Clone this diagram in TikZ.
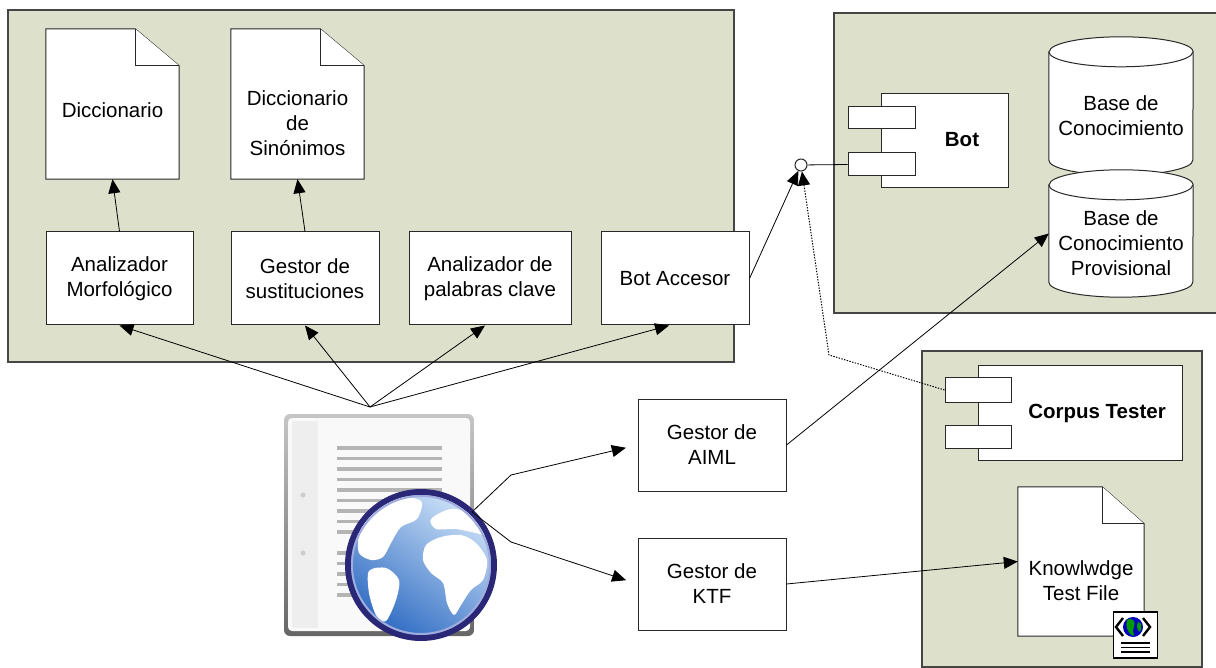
\documentclass[tikz,border=0pt]{standalone}
\usepackage{fontspec}
\setmainfont{Liberation Sans}
\usetikzlibrary{arrows.meta,calc}

\definecolor{panelfill}{RGB}{221,224,203}
\definecolor{panelline}{RGB}{70,70,70}
\definecolor{boxline}{RGB}{40,40,40}
\definecolor{ringblue}{RGB}{42,40,118}
\definecolor{ringlight}{RGB}{160,172,222}
\definecolor{oceanlight}{RGB}{200,222,246}
\definecolor{oceandark}{RGB}{50,110,196}
\definecolor{iconline}{RGB}{180,180,180}

\newcommand\diagfont{\fontsize{20.5pt}{25pt}\selectfont}

% document outline with a folded top-right corner, drawn around a named frame node
\newcommand\foldeddoc[3]{%
  \filldraw[outline] (#1.north west) -- ($(#1.north east)+(-#2pt,0pt)$)
    -- ($(#1.north east)+(0pt,-#3pt)$) -- (#1.south east) -- (#1.south west) -- cycle;
  \draw[outline] ($(#1.north east)+(-#2pt,0pt)$) |- ($(#1.north east)+(0pt,-#3pt)$);}

% database drum drawn around a named frame node: node, x radius, y radius
\newcommand\drum[3]{%
  \filldraw[outline] ($(#1.north west)+(0pt,-#3pt)$) -- ($(#1.south west)+(0pt,#3pt)$)
    arc[start angle=180,end angle=360,x radius=#2pt,y radius=#3pt]
    -- ($(#1.north east)+(0pt,-#3pt)$)
    arc[start angle=0,end angle=180,x radius=#2pt,y radius=#3pt] -- cycle;
  \draw[outline] ($(#1.north west)+(0pt,-#3pt)$)
    arc[start angle=180,end angle=360,x radius=#2pt,y radius=#3pt];}

\begin{document}
\begin{tikzpicture}[x=1pt,y=-1pt,
  panel/.style={draw=panelline, fill=panelfill, line width=1.2pt},
  outline/.style={draw=boxline, fill=white, line width=1pt},
  frame/.style={rectangle, draw=none, inner sep=0pt},
  box/.style={rectangle, draw=boxline, fill=white, line width=1pt, inner sep=0pt,
              align=center, font=\diagfont},
  caption/.style={align=center, font=\diagfont, inner sep=0pt},
  boldcaption/.style={align=center, font=\diagfont\bfseries, inner sep=0pt},
  conn/.style={draw=black, line width=0.8pt},
  arrowhead/.style={-{Triangle[length=14pt,width=12pt]}},
  dotline/.style={line width=1pt, dash pattern=on 1.4pt off 1.4pt}]

\useasboundingbox (0,0) rectangle (1216,668);
\clip (0,0) rectangle (1216,668);

% ---------- grouping panels ----------
\path[panel] (8,10) rectangle (734,362);
\path[panel] (834,13) rectangle (1230,313);
\path[panel] (922,351) rectangle (1202,667);

% ---------- lexical resources ----------
\node[frame, minimum width=133pt, minimum height=150pt] (dic) at (112.5,104) {};
\foldeddoc{dic}{44}{37}
\node[caption] (dictxt) at (112.5,110) {Diccionario};

\node[frame, minimum width=133pt, minimum height=150pt] (syn) at (297.5,104) {};
\foldeddoc{syn}{44}{37}
\node[caption] (syntxt) at (297.5,123) {Diccionario\\de\\Sinónimos};

% ---------- processing modules ----------
\node[box, minimum width=147pt, minimum height=93pt] (am) at (119.5,278.5) {Analizador\\Morfológico};
\node[box, minimum width=148pt, minimum height=93pt] (gs) at (305,278.5) {Gestor de\\sustituciones};
\node[box, minimum width=162pt, minimum height=93pt] (ap) at (490,278.5) {Analizador de\\palabras clave};
\node[box, minimum width=148pt, minimum height=93pt] (ba) at (675,278.5) {Bot Accesor};

% ---------- bot component ----------
\node[box, minimum width=127pt, minimum height=94pt] (bot) at (944.5,141) {};
\node[box, minimum width=67pt, minimum height=22pt] (botp1) at (881.5,118) {};
\node[box, minimum width=67pt, minimum height=23pt] (botp2) at (881.5,164.5) {};
\node[boldcaption] (bottxt) at (962,140) {Bot};
\node[circle, draw=boxline, fill=white, line width=1pt, minimum size=12pt, inner sep=0pt] (lol) at (801,165) {};

% ---------- knowledge bases ----------
\node[frame, minimum width=144pt, minimum height=138pt] (kb) at (1121,106) {};
\drum{kb}{72}{15}
\node[caption] (kbtxt) at (1121,116) {Base de\\Conocimiento};
\node[frame, minimum width=144pt, minimum height=127pt] (kbp) at (1121,233.5) {};
\drum{kbp}{72}{15}
\node[caption] (kbptxt) at (1121,243) {Base de\\Conocimiento\\Provisional};

% ---------- corpus tester component ----------
\node[box, minimum width=204pt, minimum height=94pt] (ct) at (1080,413) {};
\node[box, minimum width=66pt, minimum height=24pt] (ctp1) at (978,390) {};
\node[box, minimum width=66pt, minimum height=23pt] (ctp2) at (978,436.5) {};
\node[boldcaption] (cttxt) at (1097,413) {Corpus Tester};

% ---------- knowledge test file ----------
\node[frame, minimum width=126pt, minimum height=149pt] (ktfdoc) at (1081,561.5) {};
\foldeddoc{ktfdoc}{42}{37}
\node[caption] (ktfdoctxt) at (1081,581) {Knowlwdge\\Test File};

% small web-document badge
\node[rectangle, draw=black, fill=white, line width=1.3pt, minimum width=44pt,
      minimum height=46pt, inner sep=0pt] (badge) at (1135.5,635) {};
\fill[blue!75!black] (1133,627) circle[radius=10pt];
\fill[green!60!black] (1127,620) .. controls (1133,617) and (1136,622) .. (1134,627)
      .. controls (1131,632) and (1136,635) .. (1133,636) .. controls (1128,634) and (1125,626) .. cycle;
\fill[green!60!black] (1138,622) .. controls (1142,622) and (1142,628) .. (1140,632)
      .. controls (1137,630) and (1136,626) .. cycle;
\draw[line width=2.4pt] (1123,618) -- (1116,627) -- (1123,636);
\draw[line width=2.4pt] (1143,618) -- (1150,627) -- (1143,636);
\draw[line width=1.4pt] (1121,643) -- (1150,643);
\draw[line width=1.4pt] (1121,647.5) -- (1150,647.5);
\draw[line width=1.4pt] (1121,652) -- (1150,652);

% ---------- managers ----------
\node[box, minimum width=148pt, minimum height=92pt] (aiml) at (712,445) {Gestor de\\AIML};
\node[box, minimum width=148pt, minimum height=92pt] (ktf) at (712,584) {Gestor de\\KTF};

% ---------- web document icon ----------
\shade[rounded corners=6pt, top color=gray!45, bottom color=gray!80!black] (284,414) rectangle (474,636);
\fill[rounded corners=4pt, gray!5] (288,418) rectangle (470,631);
\fill[gray!13] (292,421) rectangle (318,628);
\foreach \ly in {448,458.5,469,479.5,490,500.5,511,521.5,532}
  \draw[iconline, line width=3.5pt] (337,\ly) -- (442,\ly);
\foreach \ly in {553,563.5,574,584.5,595}
  \draw[iconline, line width=3.5pt] (337,\ly) -- (410,\ly);
\fill[gray!40] (303,495) circle[radius=2.5pt];
\fill[gray!40] (303,553) circle[radius=2.5pt];

\fill[ringblue] (421,565) circle[radius=76pt];
\shade[shading=axis, top color=oceanlight, bottom color=oceandark, shading angle=-35]
  (421,565) circle[radius=70pt];
\begin{scope}[shift={(421,565)}]
  \clip (0,0) circle[radius=70pt];
  \fill[white] plot[smooth cycle] coordinates {(-62,-30) (-50,-55) (-25,-68) (0,-64) (-4,-46)
    (-20,-38) (-30,-22) (-38,-8) (-50,-5) (-62,-12)};
  \fill[white] plot[smooth cycle] coordinates {(-52,6) (-35,3) (-22,15) (-25,35) (-35,56)
    (-45,50) (-52,28)};
  \fill[white] plot[smooth cycle] coordinates {(5,-20) (20,-28) (40,-30) (55,-22) (66,-5)
    (62,15) (50,25) (40,40) (33,50) (26,38) (22,18) (10,8) (2,-5)};
  \fill[white] plot[smooth cycle] coordinates {(10,-46) (30,-56) (55,-50) (68,-30) (55,-32)
    (35,-36) (15,-36)};
\end{scope}
\draw[ringlight, line width=2pt] (421,565) circle[radius=69pt];

\coordinate (fan) at (370,407);
\coordinate (gfoot) at (472,512);
\coordinate (bendA) at (511,475);
\coordinate (bendK) at (511,542);
\coordinate (dotbend) at (829,355);

% ---------- connectors ----------
\draw[conn, arrowhead] (am.north) -- (dic.south);
\draw[conn, arrowhead] (gs.north) -- (syn.south);

\draw[conn, arrowhead] (fan) -- (am.south);
\draw[conn, arrowhead] (fan) -- (gs.south);
\draw[conn, arrowhead] (fan) -- ($(ap.south)+(-5pt,0pt)$);
\draw[conn, arrowhead] (fan) -- ($(ba.south)+(-6pt,0pt)$);

\draw[conn, arrowhead, shorten >=12pt] (gfoot) -- (bendA) -- (aiml.west);
\draw[conn, arrowhead, shorten >=12pt] (gfoot) -- (bendK) -- (ktf.west);

\draw[conn] (lol) -- (botp2.west);
\draw[conn, arrowhead] (ba.east) -- (lol);
\draw[conn, dotline, arrowhead] (ctp1.west) -- (dotbend) -- (lol);

\draw[conn, arrowhead] (aiml.east) -- (kbp.west);
\draw[conn, arrowhead] (ktf.east) -- (ktfdoc.west);

\end{tikzpicture}
\end{document}
